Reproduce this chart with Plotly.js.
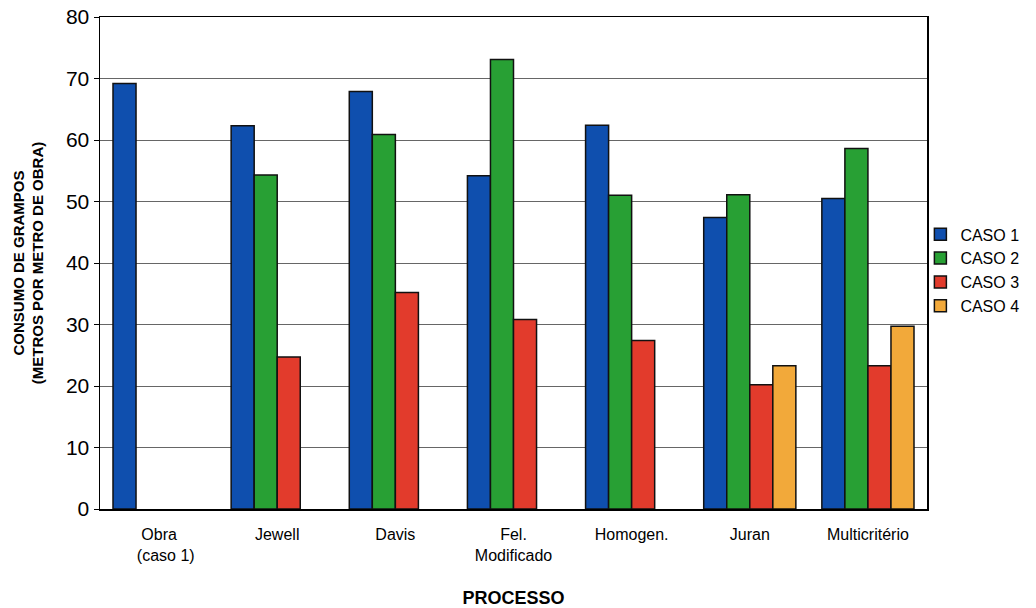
<!DOCTYPE html>
<html><head><meta charset="utf-8">
<script src="https://cdn.plot.ly/plotly-3.0.1.min.js"></script>
<style>body{margin:0;background:#fff}#c{width:1036px;height:608px}</style>
</head><body><div id="c"></div>
<script>
const categories = ["Obra<br>   (caso 1)", "Jewell", "Davis", "Fel.<br>Modificado", "Homogen.", "Juran", "Multicritério"];
const seriesNames = ["CASO 1", "CASO 2", "CASO 3", "CASO 4"];
const caso1 = [69.2, 62.3, 67.9, 54.2, 62.4, 47.4, 50.5];
const caso2 = [null, 54.3, 60.9, 73.1, 51.0, 51.1, 58.6];
const caso3 = [null, 24.7, 35.2, 30.8, 27.4, 20.2, 23.3];
const caso4 = [null, null, null, null, null, 23.3, 29.7];
const colors = ["#0f4fae", "#28a034", "#e23b2c", "#f2a93a"];
const values = [caso1, caso2, caso3, caso4];
const traces = values.map((v, i) => ({
  type: "bar", name: seriesNames[i], x: categories, y: v,
  marker: {color: colors[i], line: {color: "#111", width: 1.5}}
}));
const layout = {
  width: 1036, height: 608,
  margin: {l: 100, r: 106, t: 17, b: 99},
  paper_bgcolor: "#fff", plot_bgcolor: "#fff",
  barmode: "group", bargap: 0.22, bargroupgap: 0,
  font: {family: "Liberation Sans, Arial, sans-serif", color: "#000"},
  xaxis: {
    showline: true, linecolor: "#000", linewidth: 1.5, mirror: true,
    tickfont: {size: 16}, ticks: "", showgrid: false, ticklabelstandoff: 10,
    title: {text: "<b>PROCESSO</b>", font: {size: 18}, standoff: 36}
  },
  yaxis: {
    range: [0, 80], dtick: 10, showline: true, linecolor: "#000", linewidth: 1.5, mirror: true,
    gridcolor: "#666", gridwidth: 1, ticks: "outside", ticklen: 5, tickcolor: "#000",
    tickfont: {size: 21}, zeroline: false,
    title: {text: "<b>CONSUMO DE GRAMPOS<br>(METROS POR METRO DE OBRA)</b>", font: {size: 15}, standoff: 18}
  },
  legend: {x: 0.992, y: 0.485, xanchor: "left", yanchor: "middle", font: {size: 16},
           itemwidth: 30, tracegroupgap: 0, bgcolor: "rgba(0,0,0,0)"},
  showlegend: true
};
Plotly.newPlot("c", traces, layout, {displayModeBar: false, staticPlot: true});
</script></body></html>
